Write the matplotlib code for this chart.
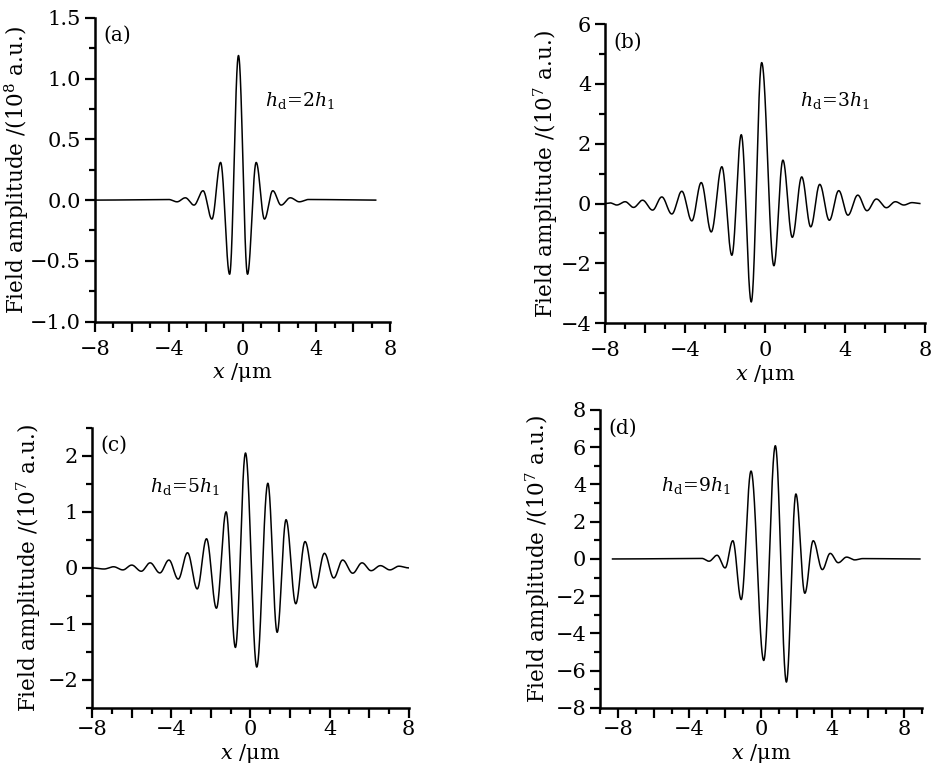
import numpy as np
import matplotlib
matplotlib.use("Agg")
import matplotlib.pyplot as plt
from matplotlib.ticker import MultipleLocator, FuncFormatter

plt.rcParams["font.family"] = ["DejaVu Serif"]
plt.rcParams["mathtext.fontset"] = "dejavuserif"
plt.rcParams["font.size"] = 15

# ── Data: extrema of each field profile ──────────────────────────
# (a) h_d = 2h_1, units 1e8 a.u.
xa = [-8.0, -4.0, -3.55, -3.1, -2.63, -2.14, -1.66, -1.19, -0.7, -0.22,
      0.27, 0.74, 1.19, 1.64, 2.09, 2.59, 3.08, 3.57, 7.22]
ya = [0.0, 0.005, -0.014, 0.019, -0.041, 0.077, -0.156, 0.31, -0.61, 1.19,
      -0.61, 0.31, -0.156, 0.077, -0.041, 0.019, -0.014, 0.005, 0.0]

# (b) h_d = 3h_1, units 1e7 a.u.
xb = [-8.0, -7.75, -7.42, -7.0, -6.58, -6.13, -5.63, -5.17, -4.67, -4.17,
      -3.67, -3.2, -2.7, -2.17, -1.67, -1.2, -0.7, -0.18, 0.43, 0.88,
      1.35, 1.82, 2.27, 2.72, 3.2, 3.67, 4.13, 4.62, 5.08, 5.55,
      6.05, 6.5, 6.92, 7.33, 7.72]
yb = [0.0, 0.02, -0.05, 0.06, -0.13, 0.11, -0.22, 0.22, -0.35, 0.41,
      -0.58, 0.7, -0.95, 1.23, -1.73, 2.3, -3.29, 4.71, -2.08, 1.45,
      -1.13, 0.89, -0.78, 0.64, -0.56, 0.43, -0.39, 0.28, -0.24, 0.15,
      -0.14, 0.06, -0.05, 0.03, 0.0]

# (c) h_d = 5h_1, units 1e7 a.u.
xc = [-8.0, -7.4, -6.92, -6.45, -6.0, -5.52, -5.07, -4.58, -4.12, -3.65,
      -3.18, -2.69, -2.22, -1.72, -1.23, -0.76, -0.25, 0.32, 0.88, 1.35,
      1.8, 2.29, 2.76, 3.27, 3.74, 4.21, 4.66, 5.17, 5.64, 6.1,
      6.57, 7.05, 7.5, 8.0]
yc = [0.0, -0.02, 0.02, -0.036, 0.05, -0.06, 0.09, -0.09, 0.14, -0.2,
      0.27, -0.375, 0.52, -0.72, 1.0, -1.42, 2.05, -1.77, 1.51, -1.15,
      0.86, -0.64, 0.47, -0.36, 0.26, -0.18, 0.14, -0.095, 0.09, -0.05,
      0.04, -0.036, 0.03, 0.0]

# (d) h_d = 9h_1, units 1e7 a.u.
xd = [-8.3, -3.3, -2.9, -2.45, -2.0, -1.57, -1.1, -0.55, 0.16, 0.81,
      1.43, 1.96, 2.46, 2.93, 3.44, 3.88, 4.33, 4.8, 5.25, 5.7, 8.9]
yd = [0.0, 0.03, -0.12, 0.2, -0.48, 0.98, -2.18, 4.72, -5.45, 6.08,
      -6.61, 3.49, -1.84, 0.98, -0.57, 0.3, -0.2, 0.1, -0.05, 0.02, 0.0]


def smooth_through(xs, ys, n=60):
    # half-cosine segments between consecutive extrema
    px, py = [], []
    for i in range(len(xs) - 1):
        t = np.linspace(0, 1, n, endpoint=False)
        px.append(xs[i] + (xs[i + 1] - xs[i]) * t)
        py.append(ys[i] + (ys[i + 1] - ys[i]) * (1 - np.cos(np.pi * t)) / 2)
    px.append([xs[-1]]); py.append([ys[-1]])
    return np.concatenate(px), np.concatenate(py)


def minus(s):
    return s.replace("-", "\u2212")


fig = plt.figure(figsize=(9.31, 7.75), dpi=100)

panels = [
    # rect, x, y, xlim, ylim, ymajor, yminor, yfmt, power, tag, note, note_xy, ylab_x, xpad
    ([0.102, 0.585, 0.317, 0.392], xa, ya, (-8, 8), (-1.0, 1.5), 0.5, 0.25, "%.1f", 8,
     "(a)", r"$h_\mathrm{d}\!=\!2h_1$", (1.2, 0.82), -0.217, 6),
    ([0.650, 0.583, 0.344, 0.386], xb, yb, (-8, 8), (-4, 6), 2, 1, "%d", 7,
     "(b)", r"$h_\mathrm{d}\!=\!3h_1$", (1.75, 3.46), -0.14, 6),
    ([0.099, 0.0865, 0.340, 0.3615], xc, yc, (-8, 8), (-2.5, 2.5), 1, 0.5, "%d", 7,
     "(c)", r"$h_\mathrm{d}\!=\!5h_1$", (-5.1, 1.46), -0.155, 2),
    ([0.6445, 0.0865, 0.3455, 0.3845], xd, yd, (-9, 9), (-8, 8), 2, 1, "%d", 7,
     "(d)", r"$h_\mathrm{d}\!=\!9h_1$", (-5.6, 3.97), -0.15, 2),
]

for rect, xs, ys, xlim, ylim, ymaj, ymin, yfmt, power, tag, note, nxy, ylx, xpad in panels:
    ax = fig.add_axes(rect)
    cx, cy = smooth_through(xs, ys)
    ax.plot(cx, cy, color="black", linewidth=1.1)
    ax.set_xlim(*xlim)
    ax.set_ylim(*ylim)

    for s in ("top", "right"):
        ax.spines[s].set_visible(False)
    for s in ("left", "bottom"):
        ax.spines[s].set_linewidth(1.8)

    ax.xaxis.set_major_locator(MultipleLocator(2))
    ax.xaxis.set_minor_locator(MultipleLocator(1))
    ax.xaxis.set_major_formatter(FuncFormatter(
        lambda v, p: minus("%d" % round(v)) if round(v) % 4 == 0 else ""))
    ax.yaxis.set_major_locator(MultipleLocator(ymaj))
    ax.yaxis.set_minor_locator(MultipleLocator(ymin))
    ax.yaxis.set_major_formatter(FuncFormatter(
        lambda v, p, f=yfmt: minus(f % (round(v) if f == "%d" else v))))

    ax.tick_params(which="major", direction="out", length=7, width=1.6, labelsize=15)
    ax.tick_params(which="minor", direction="out", length=4, width=1.6)
    ax.tick_params(axis="y", which="major", pad=3)
    ax.tick_params(axis="x", which="major", pad=xpad)

    ax.set_xlabel(r"$x$ /μm", fontsize=15, labelpad=2)
    ax.set_ylabel(r"Field amplitude /(10$^{%d}$ a.u.)" % power, fontsize=15.5)
    ax.yaxis.set_label_coords(ylx, 0.5)

    ax.annotate(tag, xy=(0, 1), xycoords="axes fraction", xytext=(6, -6),
                textcoords="offset points", ha="left", va="top", fontsize=14.5)
    ax.text(nxy[0], nxy[1], note, ha="left", va="center", fontsize=13.5)

fig.savefig("out.png", dpi=100)
